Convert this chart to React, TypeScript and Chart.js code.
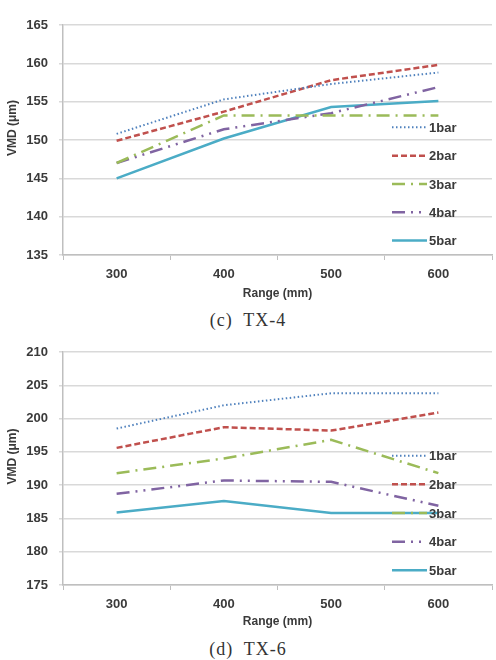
import React, { useEffect, useRef } from "react";
import { Chart, registerables } from "chart.js";

Chart.register(...registerables);

const categories = ["300", "400", "500", "600"];
const seriesNames = ["1bar", "2bar", "3bar", "4bar", "5bar"];

// (c) TX-4
const tx4_1bar = [150.8, 155.3, 157.3, 158.8];
const tx4_2bar = [149.9, 153.7, 157.8, 159.8];
const tx4_3bar = [147.0, 153.2, 153.2, 153.2];
const tx4_4bar = [147.0, 151.4, 153.5, 156.9];
const tx4_5bar = [145.0, 150.2, 154.3, 155.1];

// (d) TX-6
const tx6_1bar = [198.5, 202.0, 203.8, 203.8];
const tx6_2bar = [195.6, 198.7, 198.2, 200.9];
const tx6_3bar = [191.8, 194.0, 196.8, 191.8];
const tx6_4bar = [188.7, 190.7, 190.5, 186.9];
const tx6_5bar = [185.9, 187.6, 185.8, 185.8];

const yRangeTX4 = { min: 135, max: 165, step: 5 };
const yRangeTX6 = { min: 175, max: 210, step: 5 };

const xTitle = "Range (mm)";
const yTitle = "VMD (μm)";

const styles = [
  { color: "#4f81bd", dash: [1.5, 2.5], width: 2 },
  { color: "#c0504d", dash: [6, 3], width: 2.5 },
  { color: "#9bbb59", dash: [13, 6, 2, 6], width: 2.5 },
  { color: "#8064a2", dash: [13, 6, 2, 6, 2, 6], width: 2.5 },
  { color: "#4bacc6", dash: [], width: 2.5 },
];

const TEXT = "#3a3a3a";
const FONT_FAMILY = "'Liberation Sans', Arial, sans-serif";

type Props = {
  series: number[][];
  yr: { min: number; max: number; step: number };
  top: number;
  height: number;
  plotTop: number;
  plotBottom: number;
};

function LineChart({ series, yr, top, height, plotTop, plotBottom }: Props) {
  const ref = useRef<HTMLCanvasElement | null>(null);
  useEffect(() => {
    if (!ref.current) return;
    const customPlugin = {
      id: "custom",
      afterDatasetsDraw(chart: any) {
        const { ctx, chartArea } = chart;
        const ph = chartArea.bottom - chartArea.top;
        ctx.save();
        // legend
        chart.data.datasets.forEach((ds: any, i: number) => {
          const y = chartArea.top + ph * (0.445 + 0.123 * i);
          const x0 = chartArea.right - 100;
          const x1 = chartArea.right - 65;
          ctx.strokeStyle = ds.borderColor;
          ctx.lineWidth = ds.borderWidth;
          ctx.setLineDash(ds.borderDash || []);
          ctx.beginPath();
          ctx.moveTo(x0, y);
          ctx.lineTo(x1, y);
          ctx.stroke();
          ctx.setLineDash([]);
          ctx.fillStyle = TEXT;
          ctx.font = `bold 13px ${FONT_FAMILY}`;
          ctx.textAlign = "left";
          ctx.textBaseline = "middle";
          ctx.fillText(ds.label, chartArea.right - 63, y + 1);
        });
        // y title
        ctx.translate(13, (chartArea.top + chartArea.bottom) / 2 - 12);
        ctx.rotate(-Math.PI / 2);
        ctx.fillStyle = TEXT;
        ctx.font = `bold 12px ${FONT_FAMILY}`;
        ctx.textAlign = "center";
        ctx.textBaseline = "middle";
        ctx.fillText(yTitle, 0, 0);
        ctx.restore();
      },
    };
    const chart = new Chart(ref.current, {
      type: "line",
      data: {
        labels: categories,
        datasets: series.map((data, i) => ({
          label: seriesNames[i],
          data,
          borderColor: styles[i].color,
          backgroundColor: styles[i].color,
          borderWidth: styles[i].width,
          borderDash: styles[i].dash,
          pointRadius: 0,
          tension: 0,
          fill: false,
        })),
      },
      options: {
        responsive: false,
        animation: false,
        layout: { padding: { top: plotTop, right: 4, left: 0, bottom: 0 } },
        plugins: {
          legend: { display: false },
          tooltip: { enabled: false },
        },
        scales: {
          x: {
            type: "category",
            offset: true,
            grid: {
              offset: true,
              drawOnChartArea: false,
              drawTicks: true,
              tickLength: 5,
              color: "#bfbfbf",
              lineWidth: 1,
            },
            border: { display: true, color: "#bfbfbf", width: 1.5 },
            ticks: {
              color: TEXT,
              font: { family: FONT_FAMILY, size: 13, weight: "bold" },
              padding: 7,
              maxRotation: 0,
            },
            title: {
              display: true,
              text: xTitle,
              color: TEXT,
              font: { family: FONT_FAMILY, size: 12, weight: "bold" },
              padding: { top: 0, bottom: 4 },
            },
            afterFit: (scale: any) => {
              scale.height = height - plotBottom;
            },
          },
          y: {
            min: yr.min,
            max: yr.max,
            ticks: {
              stepSize: yr.step,
              color: TEXT,
              font: { family: FONT_FAMILY, size: 13, weight: "bold" },
              padding: 11,
            },
            grid: {
              color: "#d9d9d9",
              lineWidth: 1.5,
              drawTicks: true,
              tickLength: 4,
            },
            border: { display: true, color: "#bfbfbf", width: 1.5 },
            afterFit: (scale: any) => {
              scale.width = 63;
            },
          },
        },
      },
      plugins: [customPlugin],
    } as any);
    return () => chart.destroy();
  }, []);
  return (
    <canvas
      ref={ref}
      width={496}
      height={height}
      style={{ position: "absolute", left: 0, top, width: 496, height, display: "block" }}
    />
  );
}

const captionStyle: React.CSSProperties = {
  position: "absolute",
  left: 0,
  width: 496,
  textAlign: "center",
  fontFamily: "'Liberation Serif', 'DejaVu Serif', serif",
  fontSize: 18,
  lineHeight: "20px",
  letterSpacing: 1,
  color: "#333",
  whiteSpace: "pre",
};

export default function App() {
  return (
    <div style={{ position: "absolute", left: 0, top: 0, width: 496, height: 660, background: "#fff", overflow: "hidden" }}>
      <LineChart
        series={[tx4_1bar, tx4_2bar, tx4_3bar, tx4_4bar, tx4_5bar]}
        yr={yRangeTX4}
        top={0}
        height={305}
        plotTop={25}
        plotBottom={255}
      />
      <div style={{ ...captionStyle, top: 310 }}>{"(c)  TX-4"}</div>
      <LineChart
        series={[tx6_1bar, tx6_2bar, tx6_3bar, tx6_4bar, tx6_5bar]}
        yr={yRangeTX6}
        top={327}
        height={306}
        plotTop={25}
        plotBottom={258}
      />
      <div style={{ ...captionStyle, top: 639 }}>{"(d)  TX-6"}</div>
    </div>
  );
}
